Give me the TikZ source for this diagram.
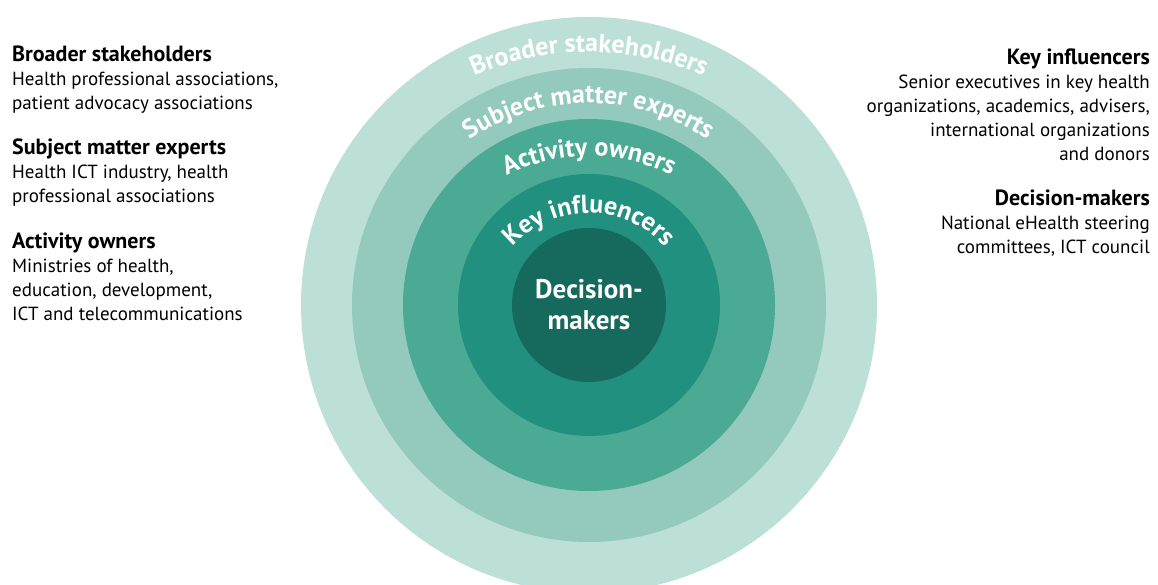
\documentclass[tikz,border=0pt]{standalone}
\usepackage{fontspec}
\setmainfont{PT Sans}
\usetikzlibrary{decorations.text}
\definecolor{ringA}{RGB}{188,224,216}
\definecolor{ringB}{RGB}{148,201,189}
\definecolor{ringC}{RGB}{74,170,148}
\definecolor{ringD}{RGB}{34,144,126}
\definecolor{ringE}{RGB}{22,105,93}
\newcommand{\notehead}[1]{{\fontsize{22}{24}\selectfont\bfseries #1}}
% #1 arc radius, #2 top of baseline (from the top edge), #3 text
\newcommand{\ringlabel}[3]{%
  \path[decorate, decoration={text along path, text align=center, text color=white,
    text={|\fontsize{26}{26}\selectfont\bfseries|#3}}]
    (589,{585-#2-#1}) ++(175:#1) arc[start angle=175, end angle=5, radius=#1];}

\begin{document}
\begin{tikzpicture}[x=1pt,y=1pt,
  ring/.style={circle, inner sep=0pt, minimum size=#1},
  lefttxt/.style={anchor=north west, align=left, inner sep=0pt, font=\fontsize{19}{24}\selectfont},
  righttxt/.style={anchor=north east, align=right, inner sep=0pt, font=\fontsize{19}{24}\selectfont}]
                \useasboundingbox (0,0) rectangle (1158,585);
                \clip (0,0) rectangle (1158,585);
                \coordinate (ctr) at (589,280);

                % rings, outer to inner
                \node[ring=576pt, fill=ringA] (broad) at (ctr) {};
                \node[ring=474pt, fill=ringB] (expert) at (ctr) {};
                \node[ring=372pt, fill=ringC] (owner) at (ctr) {};
                \node[ring=262pt, fill=ringD] (influ) at (ctr) {};
                \node[ring=154pt, fill=ringE, text=white, align=center,
                      font=\fontsize{27}{31}\selectfont\bfseries] (decide) at (ctr) {Decision-\\makers};

                \ringlabel{285}{52}{Broader stakeholders}
                \ringlabel{210}{103}{Subject matter experts}
                \ringlabel{185}{156}{Activity owners}
                \ringlabel{102}{213}{Key influencers}

                % left notes
                \node[lefttxt] (noteBroad) at (12,539) {\notehead{Broader stakeholders}\\Health professional associations,\\patient advocacy associations};
                \node[lefttxt] (noteExpert) at (12,446) {\notehead{Subject matter experts}\\Health ICT industry, health\\professional associations};
                \node[lefttxt] (noteOwner) at (12,352) {\notehead{Activity owners}\\Ministries of health,\\education, development,\\ICT and telecommunications};

                % right notes
                \node[righttxt] (noteInflu) at (1150,536) {\notehead{Key influencers}\\Senior executives in key health\\organizations, academics, advisers,\\international organizations\\and donors};
                \node[righttxt] (noteDecide) at (1150,395) {\notehead{Decision-makers}\\National eHealth steering\\committees, ICT council};
            \end{tikzpicture}
\end{document}
